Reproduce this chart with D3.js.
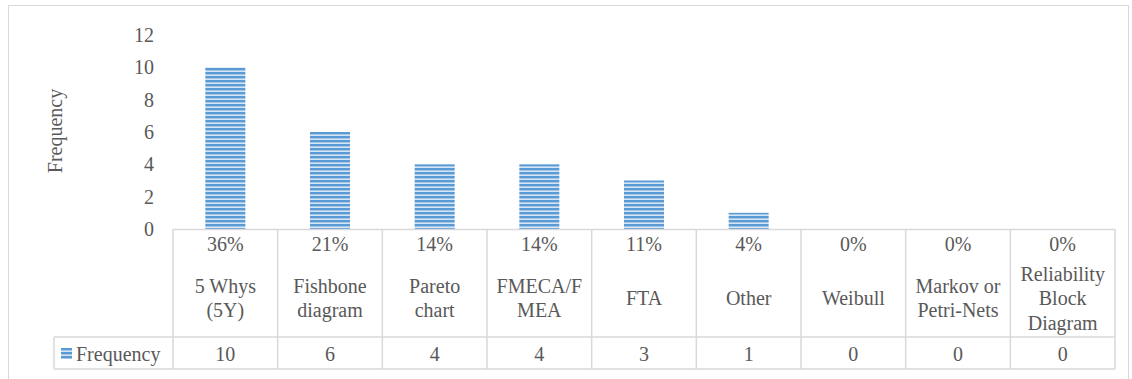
<!DOCTYPE html>
<html>
<head>
<meta charset="utf-8">
<script src="https://cdn.jsdelivr.net/npm/d3@7/dist/d3.min.js"></script>
</head>
<body style="margin:0;background:#fff">
<svg id="chart" width="1132" height="379" font-family="Times New Roman, Times, serif"></svg>
<script>
// data
const categories = [
  ["5 Whys", "(5Y)"],
  ["Fishbone", "diagram"],
  ["Pareto", "chart"],
  ["FMECA/F", "MEA"],
  ["FTA"],
  ["Other"],
  ["Weibull"],
  ["Markov or", "Petri-Nets"],
  ["Reliability", "Block", "Diagram"]
];
const frequency = [10, 6, 4, 4, 3, 1, 0, 0, 0];
const yTicks = [0, 2, 4, 6, 8, 10, 12];
const seriesName = "Frequency";

const svg = d3.select('#chart');
const lineCol = '#d9d9d9';
const barCol = '#5b9bd5';
const textCol = '#595959';
const font = '"Times New Roman", Times, serif';
const fs = 20;

function styleText(s) {
  return s.attr('font-family', font)
    .attr('font-size', fs)
    .attr('fill', textCol)
    .style('font-family', font)
    .style('font-size', fs + 'px');
}

// outer frame
svg.append('rect')
  .attr('x', 8.5).attr('y', 5.5).attr('width', 1120).attr('height', 400)
  .attr('fill', 'none').attr('stroke', lineCol);

// stripe pattern for bars
const defs = svg.append('defs');
const pat = defs.append('pattern').attr('id', 'stripes')
  .attr('patternUnits', 'userSpaceOnUse').attr('width', 2000).attr('height', 4);
pat.append('rect').attr('width', 2000).attr('height', 4).attr('fill', '#d6e5f4');
pat.append('rect').attr('width', 2000).attr('height', 2.4).attr('fill', barCol);

const x = d3.scaleBand()
  .domain(d3.range(categories.length))
  .range([173, 1115])
  .padding(0);

const y = d3.scaleLinear().domain([0, 12]).range([229, 35]);

// y axis
const yAxis = svg.append('g')
  .attr('transform', 'translate(157,0)')
  .call(d3.axisLeft(y).tickValues(yTicks).tickSize(0).tickPadding(3));
yAxis.attr('font-family', font).attr('font-size', fs);
yAxis.select('.domain').remove();
styleText(yAxis.selectAll('text'));

styleText(svg.append('text')
  .attr('transform', 'translate(62,131) rotate(-90)')
  .attr('text-anchor', 'middle'))
  .text(seriesName);

// bars
const barW = 40;
svg.append('g').selectAll('rect')
  .data(frequency)
  .join('rect')
  .attr('x', (d, i) => x(i) + x.bandwidth() / 2 - barW / 2)
  .attr('y', d => y(d))
  .attr('width', barW)
  .attr('height', d => y(0) - y(d))
  .attr('fill', 'url(#stripes)');

// data table
const total = d3.sum(frequency);
const pct = d3.format('.0%');
const tbl = svg.append('g').attr('stroke', lineCol).attr('stroke-width', 1.5);
tbl.append('line').attr('x1', 173).attr('x2', 1115).attr('y1', 229.5).attr('y2', 229.5);
tbl.append('line').attr('x1', 54).attr('x2', 1115).attr('y1', 337).attr('y2', 337);
tbl.append('line').attr('x1', 54).attr('x2', 1115).attr('y1', 369).attr('y2', 369);
tbl.append('line').attr('x1', 54).attr('x2', 54).attr('y1', 337).attr('y2', 369);
tbl.selectAll('line.col')
  .data(d3.range(categories.length + 1))
  .join('line')
  .attr('class', 'col')
  .attr('x1', i => i < categories.length ? x(i) : x.range()[1])
  .attr('x2', i => i < categories.length ? x(i) : x.range()[1])
  .attr('y1', 229).attr('y2', 369);

const cells = svg.append('g')
  .selectAll('g')
  .data(categories)
  .join('g')
  .attr('transform', (d, i) => `translate(${x(i) + x.bandwidth() / 2},0)`);

function cellText(g, yy, t) {
  return styleText(g.append('text')
    .attr('y', yy)
    .attr('text-anchor', 'middle'))
    .text(t);
}

cells.each(function(lines, i) {
  const g = d3.select(this);
  cellText(g, 251, pct(frequency[i] / total));
  const lh = 24.5;
  const y0 = 305 - (lines.length - 1) * lh / 2;
  lines.forEach((t, k) => cellText(g, y0 + k * lh, t));
  cellText(g, 361, frequency[i]);
});

// legend key in table
svg.append('rect')
  .attr('x', 61).attr('y', 348).attr('width', 11).attr('height', 11)
  .attr('fill', 'url(#stripes)');
styleText(svg.append('text')
  .attr('x', 76).attr('y', 361))
  .text(seriesName);
</script>
</body>
</html>
